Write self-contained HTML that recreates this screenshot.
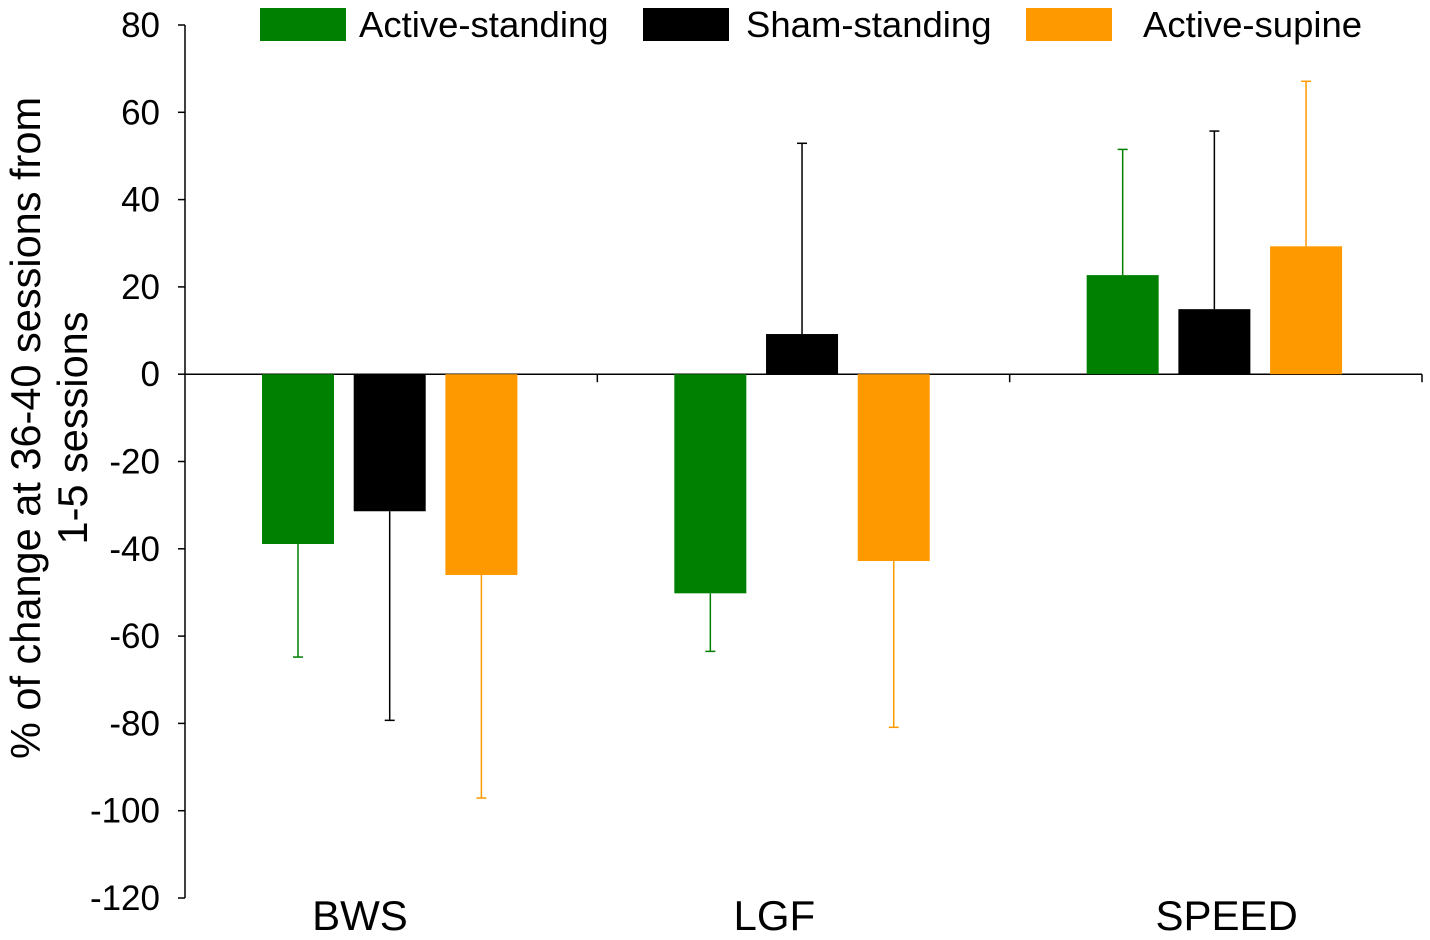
<!DOCTYPE html>
<html><head><meta charset="utf-8"><style>
body{margin:0;background:#fff;}
svg{display:block;font-family:"Liberation Sans",Arial,sans-serif;}
</style></head><body>
<svg id="chart" width="1430" height="940"></svg>
<script>
const categories=["BWS","LGF","SPEED"];
const seriesNames=["Active-standing","Sham-standing","Active-supine"];
const activeStanding=[-38.9,-50.2,22.7];
const shamStanding=[-31.4,9.2,14.9];
const activeSupine=[-46,-42.8,29.3];
const errActiveStanding=[-64.8,-63.5,51.5];
const errShamStanding=[-79.3,52.9,55.7];
const errActiveSupine=[-97.1,-80.9,67.1];
const yTicks=[80,60,40,20,0,-20,-40,-60,-80,-100,-120];

const colors=["#008000","#000000","#ff9900"];
const values=[activeStanding,shamStanding,activeSupine];
const errs=[errActiveStanding,errShamStanding,errActiveSupine];
const labelOffsets=[175,177,217];
const NS="http://www.w3.org/2000/svg";
const svg=document.getElementById('chart');
const x0=185,x1=1422,yTop=25,yBot=898;
function y(v){return yTop+(80-v)*(yBot-yTop)/200;}
const catW=(x1-x0)/categories.length;
function mk(t,a,p){const e=document.createElementNS(NS,t);for(const k in a)e.setAttribute(k,a[k]);(p||svg).appendChild(e);return e;}
let ax=mk('line',{x1:x0,y1:yTop,x2:x0,y2:yBot,stroke:'#000','stroke-width':1.5});


yTicks.forEach(t=>{
 const tk=mk('line',{x1:x0-7,y1:y(t),x2:x0,y2:y(t),stroke:'#000','stroke-width':1.5});
 
 
 const tl=mk('text',{x:160,y:y(t)+12,'text-anchor':'end','font-size':35});
 tl.textContent=t;
 
 
});
let xa=mk('line',{x1:x0,y1:y(0),x2:x1,y2:y(0),stroke:'#000','stroke-width':1.5});


categories.forEach((c,i)=>{
 const tx=x0+catW*(i+1);
 const tk=mk('line',{x1:tx,y1:y(0),x2:tx,y2:y(0)+8,stroke:'#000','stroke-width':1.5});
 
 
 const lb=mk('text',{x:x0+catW*i+labelOffsets[i],y:930,'text-anchor':'middle','font-size':42});
 lb.textContent=c;
 
 
 values.forEach((s,j)=>{
  const bx=x0+catW*i+77+j*91.7, bw=72;
  const v=s[i];
  const r=mk('rect',{x:bx,y:Math.min(y(v),y(0)),width:bw,height:Math.abs(y(v)-y(0)),fill:colors[j]});
  
  
  const cx=bx+bw/2, e=errs[j][i];
  const g=mk('g',{stroke:colors[j],'stroke-width':1.5});
  
  
  mk('line',{x1:cx,y1:y(v),x2:cx,y2:y(e)},g);
  mk('line',{x1:cx-5,y1:y(e),x2:cx+5,y2:y(e)},g);
 });
});
const lx=[260,643,1026],tx=[359,746,1143];
seriesNames.forEach((n,j)=>{
 const b=mk('rect',{x:lx[j],y:8,width:86,height:33,fill:colors[j]});
 
 
 const t=mk('text',{x:tx[j],y:37,'font-size':36.5});
 t.textContent=n;
 
 
});
const yt=mk('text',{transform:'translate(40,428) rotate(-90)','text-anchor':'middle','font-size':41.5});


const t1=mk('tspan',{x:0,dy:0},yt);t1.textContent='% of change at 36-40 sessions from';
const t2=mk('tspan',{x:0,dy:47},yt);t2.textContent='1-5 sessions';
</script>
</body></html>
